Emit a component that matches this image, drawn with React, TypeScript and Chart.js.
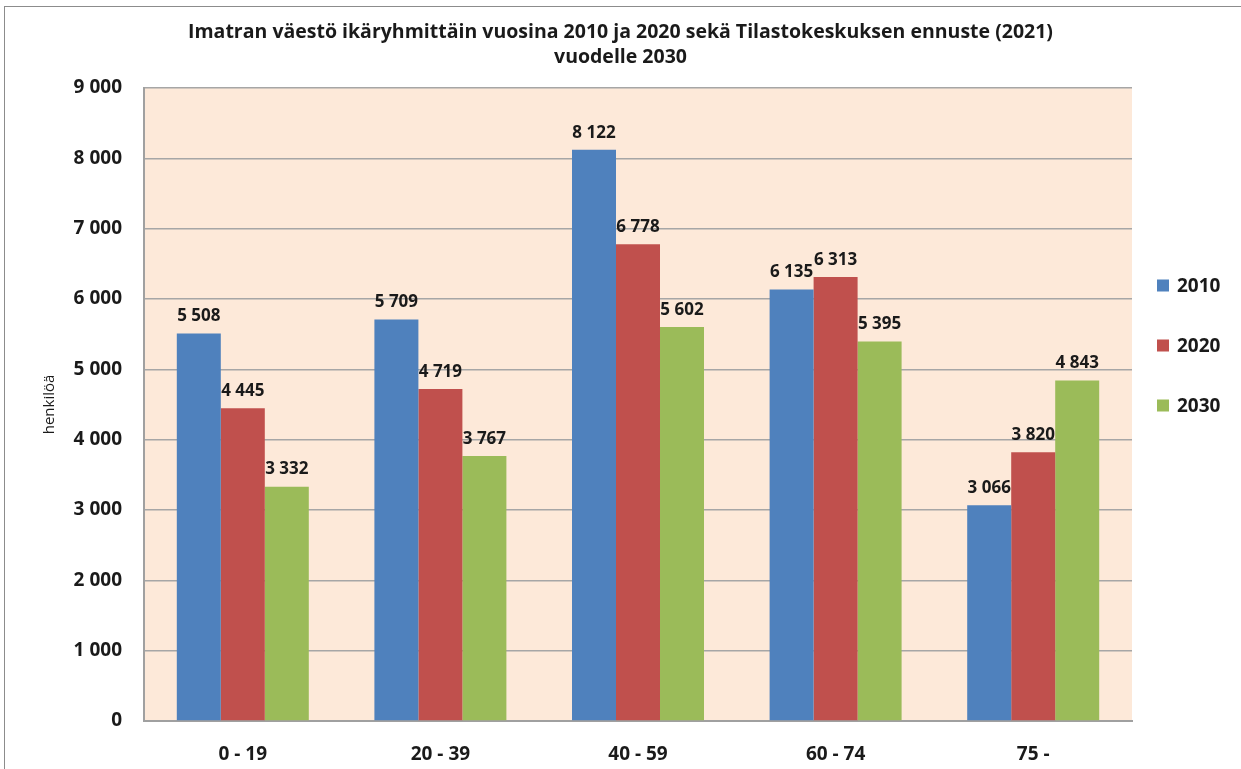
import React, { useEffect, useRef } from "react";
import { Chart, registerables } from "chart.js";

Chart.register(...registerables);

const categories = ["0 - 19", "20 - 39", "40 - 59", "60 - 74", "75 -"];
const seriesLabels = ["2010", "2020", "2030"];
const values2010 = [5508, 5709, 8122, 6135, 3066];
const values2020 = [4445, 4719, 6778, 6313, 3820];
const values2030 = [3332, 3767, 5602, 5395, 4843];
const seriesColors = ["#4f81bd", "#c0504d", "#9bbb59"];
const titleLines = [
  "Imatran väestö ikäryhmittäin vuosina 2010 ja 2020 sekä Tilastokeskuksen ennuste (2021)",
  "vuodelle 2030",
];
const yAxisTitle = "henkilöä";
const yMin = 0;
const yMax = 9000;
const yStep = 1000;

const FONT = "'Open Sans', 'DejaVu Sans', sans-serif";
const TEXT = "#1a1a1a";

const fmt = (n: number) => String(n).replace(/\B(?=(\d{3})+(?!\d))/g, " ");

const plotBg = {
  id: "plotBg",
  beforeDraw(chart: any) {
    const { ctx, chartArea } = chart;
    ctx.save();
    ctx.fillStyle = "#fde9d9";
    ctx.fillRect(chartArea.left, chartArea.top, chartArea.right - chartArea.left, chartArea.bottom - chartArea.top);
    ctx.restore();
  },
};

const dataLabels = {
  id: "dataLabels",
  afterDatasetsDraw(chart: any) {
    const { ctx } = chart;
    ctx.save();
    ctx.font = `bold 17px ${FONT}`;
    ctx.fillStyle = TEXT;
    ctx.textAlign = "center";
    ctx.textBaseline = "middle";
    chart.data.datasets.forEach((ds: any, di: number) => {
      const meta = chart.getDatasetMeta(di);
      meta.data.forEach((bar: any, i: number) => {
        ctx.fillText(fmt(ds.data[i]), bar.x, bar.y - 17);
      });
    });
    ctx.restore();
  },
};

const sideLegend = {
  id: "sideLegend",
  afterDraw(chart: any) {
    const { ctx, chartArea } = chart;
    const n = chart.data.datasets.length;
    const spacing = 60;
    const midY = (chartArea.top + chartArea.bottom) / 2 - 59;
    ctx.save();
    ctx.font = `bold 19px ${FONT}`;
    ctx.textAlign = "left";
    ctx.textBaseline = "middle";
    chart.data.datasets.forEach((ds: any, i: number) => {
      const y = midY + (i - (n - 1) / 2) * spacing;
      const x = chartArea.right + 25;
      ctx.fillStyle = ds.backgroundColor;
      ctx.fillRect(x, y - 6, 12, 12);
      ctx.fillStyle = TEXT;
      ctx.fillText(ds.label, x + 20, y + 1);
    });
    ctx.restore();
  },
};

export default function App() {
  const ref = useRef<HTMLCanvasElement | null>(null);

  useEffect(() => {
    if (!ref.current) return;
    const seriesData = [values2010, values2020, values2030];
    const chart = new Chart(ref.current, {
      type: "bar",
      data: {
        labels: categories,
        datasets: seriesLabels.map((label, i) => ({
          label,
          data: seriesData[i],
          backgroundColor: seriesColors[i],
          borderWidth: 0,
          categoryPercentage: 0.668,
          barPercentage: 1,
        })),
      },
      options: {
        animation: false,
        responsive: false,
        maintainAspectRatio: false,
        layout: { padding: { left: 0, right: 0, top: 0, bottom: 0 } },
        plugins: {
          legend: { display: false },
          tooltip: { enabled: false },
          title: {
            display: true,
            text: titleLines,
            color: TEXT,
            font: { family: FONT, size: 19.5, weight: "bold", lineHeight: 25 / 19.5 },
            padding: { top: 19.5, bottom: 18.5 },
          },
        },
        scales: {
          x: {
            grid: { display: false },
            border: { display: true, color: "#a0a0a0", width: 2 },
            ticks: {
              color: TEXT,
              font: { family: FONT, size: 19, weight: "bold" },
              padding: 14,
              maxRotation: 0,
            },
            afterFit(scale: any) {
              scale.height = 48;
            },
          },
          y: {
            min: yMin,
            max: yMax,
            grid: { color: "#a6a6a6", lineWidth: 1.5, drawTicks: false },
            border: { display: true, color: "#a0a0a0", width: 2 },
            ticks: {
              stepSize: yStep,
              color: TEXT,
              font: { family: FONT, size: 19, weight: "bold" },
              padding: 22,
              callback: (v: any) => fmt(Number(v)),
            },
            title: {
              display: true,
              text: yAxisTitle,
              color: TEXT,
              font: { family: FONT, size: 15 },
              padding: { top: 41, bottom: 0 },
            },
            afterFit(scale: any) {
              scale.width = 144;
            },
          },
          legendSpace: {
            type: "linear",
            position: "right",
            display: true,
            grid: { display: false, drawTicks: false },
            border: { display: false },
            ticks: { display: false },
            afterFit(scale: any) {
              scale.width = 109;
            },
          },
        },
      },
      plugins: [plotBg, dataLabels, sideLegend],
    });
    return () => chart.destroy();
  }, []);

  return (
    <div style={{ position: "fixed", left: 0, top: 0, width: 1241, height: 769, overflow: "hidden", background: "#fff" }}>
      <canvas ref={ref} width={1241} height={769} style={{ display: "block", width: 1241, height: 769 }} />
      <div
        style={{
          position: "absolute",
          left: 4,
          top: 6,
          width: 1300,
          height: 900,
          border: "1.5px solid #8c8c8c",
          pointerEvents: "none",
        }}
      />
    </div>
  );
}
